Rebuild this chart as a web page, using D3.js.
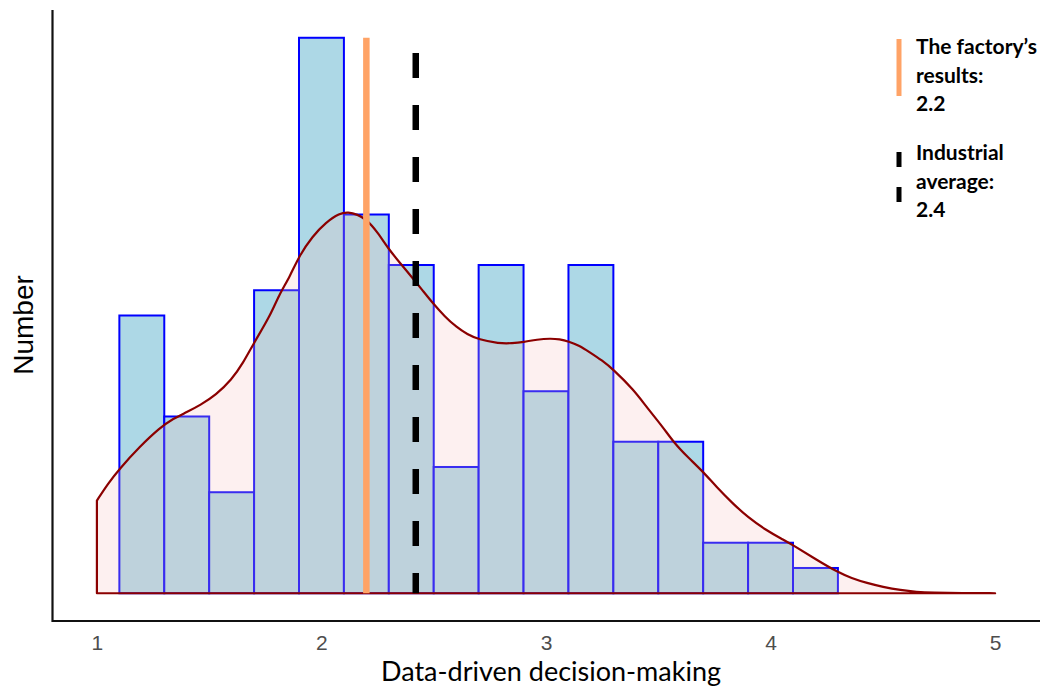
<!DOCTYPE html>
<html><head><meta charset="utf-8">
<script src="https://cdn.jsdelivr.net/npm/d3@7"></script>
<style>html,body{margin:0;padding:0;background:#fff;}</style>
</head><body>
<svg id="c" width="1046" height="695"></svg>
<script>
// ---- data ----
const binStarts = [1.1,1.3,1.5,1.7,1.9,2.1,2.3,2.5,2.7,2.9,3.1,3.3,3.5,3.7,3.9,4.1];
const binWidth = 0.2;
const counts = [11,7,4,12,22,15,13,5,13,8,13,6,6,2,2,1];
const densX = [1.00,1.05,1.10,1.19,1.28,1.34,1.40,1.46,1.53,1.60,1.65,1.70,1.77,1.81,1.86,1.90,1.96,2.02,2.08,2.12,2.16,2.20,2.25,2.30,2.35,2.40,2.45,2.49,2.55,2.60,2.65,2.70,2.79,2.85,2.90,2.96,3.02,3.06,3.10,3.15,3.19,3.25,3.30,3.39,3.45,3.52,3.57,3.63,3.70,3.76,3.83,3.90,3.98,4.05,4.10,4.20,4.30,4.36,4.43,4.50,4.58,4.65,4.72,4.85,5.00];
const densY = [3.67,4.35,4.92,5.80,6.55,6.92,7.17,7.45,7.85,8.46,9.10,9.93,10.96,11.80,12.55,13.35,14.14,14.69,15.05,15.10,15.00,14.81,14.30,13.62,13.08,12.55,12.00,11.55,10.95,10.55,10.25,10.05,9.89,9.90,9.95,10.05,10.09,10.06,9.98,9.80,9.57,9.22,8.86,8.06,7.35,6.59,5.96,5.40,4.81,4.20,3.57,3.00,2.50,2.15,1.91,1.35,0.83,0.60,0.40,0.25,0.12,0.05,0.02,0.005,0.0];
const xTicks = [1,2,3,4,5];
const factoryValue = 2.2;
const industryValue = 2.42;
const legendFactory = ["The factory\u2019s","results:","2.2"];
const legendIndustry = ["Industrial","average:","2.4"];
const xTitle = "Data-driven decision-making";
const yTitle = "Number";

// ---- scales ----
const svg = d3.select("#c");
const x = d3.scaleLinear().domain([0.8,5.2]).range([52,1040]);
const y = d3.scaleLinear().domain([-1.1,23.1]).range([621,10]);

// bars
svg.append("g").selectAll("rect").data(binStarts).join("rect")
  .attr("x", d=>x(d)).attr("width", d=>x(d+binWidth)-x(d))
  .attr("y", (d,i)=>y(counts[i])).attr("height",(d,i)=>y(0)-y(counts[i]))
  .attr("fill","#add8e6").attr("stroke","#0000ff").attr("stroke-width",2);

// density
const dens = densX.map((v,i)=>[v,densY[i]]);
const line = d3.line().x(d=>x(d[0])).y(d=>y(d[1])).curve(d3.curveBasis);
const area = d3.area().x(d=>x(d[0])).y0(y(0)).y1(d=>y(d[1])).curve(d3.curveBasis);
svg.append("path").attr("d", area(dens))
  .attr("fill","#f7bebe").attr("fill-opacity",0.23).attr("stroke","none");
const curveD = line(dens);
svg.append("path")
  .attr("d", "M"+x(densX[0])+","+y(0)+"L"+curveD.slice(1) + "L" + x(densX[densX.length-1]) + "," + y(0) + "Z")
  .attr("fill","none").attr("stroke","#8b0000").attr("stroke-width",2.2).attr("stroke-linejoin","round");

// reference lines
svg.append("line").attr("x1",x(factoryValue)).attr("x2",x(factoryValue))
  .attr("y1",y(22)).attr("y2",y(0))
  .attr("stroke","#ffa366").attr("stroke-width",6.5);
svg.append("line").attr("x1",x(industryValue)).attr("x2",x(industryValue))
  .attr("y1",53).attr("y2",y(0))
  .attr("stroke","#000").attr("stroke-width",6.5).attr("stroke-dasharray","25,27");

// axes
const xAxis = d3.axisBottom(x).tickValues(xTicks).tickSize(0).tickPadding(14).tickFormat(d3.format("d"));
const gx = svg.append("g").attr("transform","translate(0,621)").call(xAxis);
gx.select(".domain").remove();
gx.attr("font-size",21).attr("font-family","Liberation Sans, Arial, sans-serif");
gx.selectAll("text").attr("fill","#4d4d4d").style("font-size","21px");
svg.append("line").attr("x1",52).attr("x2",1040).attr("y1",621).attr("y2",621).attr("stroke","#111").attr("stroke-width",2.2);
svg.append("line").attr("x1",52.5).attr("x2",52.5).attr("y1",10).attr("y2",622).attr("stroke","#111").attr("stroke-width",2.2);

// titles
svg.append("text").attr("x",551).attr("y",681).attr("text-anchor","middle")
  .attr("font-family","Lato, sans-serif").attr("font-size",27).attr("fill","#000").text(xTitle);
svg.append("text").attr("transform","translate(33,325) rotate(-90)").attr("text-anchor","middle")
  .attr("font-family","Liberation Sans, Arial, sans-serif").attr("font-size",28).attr("fill","#000").text(yTitle);

// legend
svg.append("line").attr("x1",899).attr("x2",899).attr("y1",39).attr("y2",96)
  .attr("stroke","#ffa366").attr("stroke-width",5);
svg.append("line").attr("x1",899).attr("x2",899).attr("y1",152).attr("y2",204)
  .attr("stroke","#000").attr("stroke-width",5).attr("stroke-dasharray","15,20");
const lf = svg.append("text").attr("font-family","Lato, sans-serif").attr("font-weight","bold").attr("font-size",21).attr("fill","#000");
legendFactory.forEach((t,i)=>lf.append("tspan").attr("x",916).attr("y",54+i*28.5).text(t));
const li = svg.append("text").attr("font-family","Lato, sans-serif").attr("font-weight","bold").attr("font-size",21).attr("fill","#000");
legendIndustry.forEach((t,i)=>li.append("tspan").attr("x",916).attr("y",160+i*28.5).text(t));
</script>
</body></html>
